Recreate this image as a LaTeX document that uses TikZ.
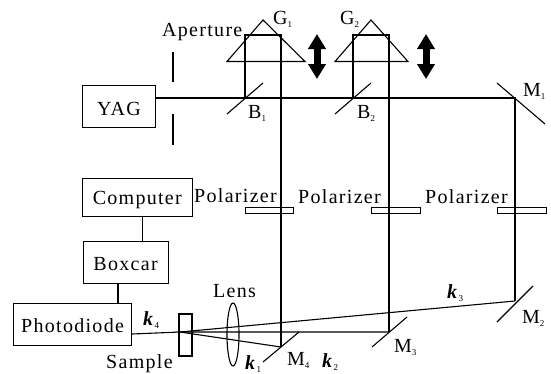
\documentclass[tikz,border=0pt]{standalone}
\usepackage{fontspec}
\setmainfont{Liberation Serif}[LetterSpace=6.5]
\usetikzlibrary{arrows.meta}
\tikzset{
  ln/.style={line width=1.1pt,draw=black},
  thin box/.style={line width=0.9pt,draw=black},
  boxn/.style={draw=black,line width=1.1pt,font=\fontsize{20}{20}\selectfont,inner sep=0pt,anchor=north west,text depth=0pt},
  lab/.style={font=\fontsize{20}{20}\selectfont,inner sep=0pt,anchor=base west},
  dbl/.style={{Triangle[width=17pt,length=15pt]}-{Triangle[width=17pt,length=15pt]},line width=7pt}
}
\newcommand{\lbl}[4]{\node[lab] at (#1,#2) {#3\raisebox{-3pt}{\fontsize{9}{9}\selectfont #4}};}
\newcommand{\klbl}[3]{\node[lab] at (#1,#2) {\textbf{\textit{k}}\raisebox{-3pt}{\fontsize{9}{9}\selectfont #3}};}
\begin{document}
\begin{tikzpicture}[x=1pt,y=-1pt]
\useasboundingbox (0,0) rectangle (551,373);
% instrument boxes
\node[boxn,minimum width=73pt,minimum height=42pt,text height=18pt] (yag) at (82,85) {YAG};
\node[boxn,minimum width=109.5pt,minimum height=38pt,text height=13pt] (computer) at (82,178) {Computer};
\node[boxn,minimum width=85pt,minimum height=42pt,text height=16pt] (boxcar) at (82.5,241) {Boxcar};
\node[boxn,minimum width=118pt,minimum height=42pt,text height=16pt] (pd) at (13,303) {Photodiode};
\coordinate (b1) at (245,98); \coordinate (b2) at (353,98); \coordinate (m1) at (515,98);
\coordinate (m2) at (515,301); \coordinate (m3) at (389,332); \coordinate (m4) at (281,347);
\coordinate (s) at (180,332);
\draw[ln] (yag.east|-b1) -- (m1) -- (m2);
\draw[ln] (b1) -- (245,35) -- (281,35) -- (m4);
\draw[ln] (b2) -- (353,35) -- (389,35) -- (m3);
\draw[ln] (m2) -- (s) -- (m4);
\draw[ln] (m3) -- (s) -- (pd.east|-0,334);
\draw[ln] (142.7,216) -- (142.7,241);
\draw[ln] (118,283) -- (118,303);
% mirrors
\draw[ln] (227,114) -- (263,83);
\draw[ln] (335,114) -- (371,83);
\draw[ln] (497,83) -- (545,124);
\draw[ln] (497,322) -- (533,286);
\draw[ln] (372,347) -- (407,317);
\draw[ln] (263,362) -- (299,332);
% prisms
\draw[ln] (263,20) -- (305,61.5) -- (227,61.5) -- cycle;
\draw[ln] (371,20) -- (408,61.5) -- (335,61.5) -- cycle;
% aperture
\draw[ln] (173,52) -- (173,82);
\draw[ln] (173,114) -- (173,145);
% sample, lens
\draw[ln] (179,314) rectangle (192,356);
\draw[ln] (233,334.5) ellipse (6 and 31.5);
% polarizers
\draw[thin box] (245,207) rectangle (293,213);
\draw[thin box] (371,207) rectangle (420,213);
\draw[thin box] (497,207) rectangle (546,213);
% arrows
\draw[dbl] (317,34) -- (317,79);
\draw[dbl] (426,34) -- (426,79);
% labels
\node[lab] (ta) at (162,36) {Aperture};
\lbl{273}{24}{G}{1}
\lbl{340}{24}{G}{2}
\lbl{248}{118}{B}{1}
\lbl{357}{118}{B}{2}
\lbl{523}{96}{M}{1}
\lbl{522}{323}{M}{2}
\lbl{394}{352}{M}{3}
\lbl{287}{365}{M}{4}
\node[lab] (pa) at (194,202) {Polarizer};
\node[lab] (pb) at (298,203) {Polarizer};
\node[lab] (pc) at (425,203) {Polarizer};
\node[lab] (lns) at (213,297) {Lens};
\node[lab] (sa) at (106,368) {Sample};
\klbl{143}{325}{4}
\klbl{447}{298}{3}
\klbl{245}{369}{1}
\klbl{322}{367}{2}
\end{tikzpicture}
\end{document}
